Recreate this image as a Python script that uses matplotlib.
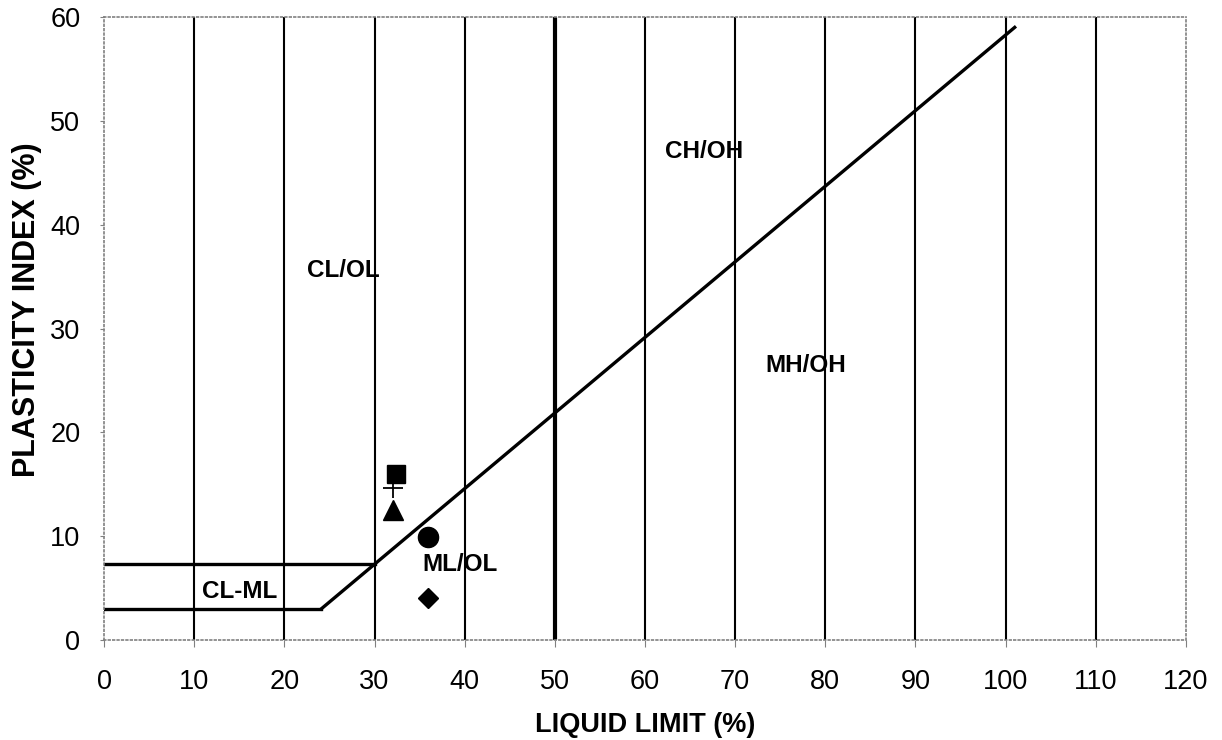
import matplotlib
matplotlib.use("Agg")
import matplotlib.pyplot as plt

plt.rcParams['font.family'] = ['Liberation Sans', 'DejaVu Sans']

# A-line and boundaries
a_line_x = [24.1, 101.0]
a_line_y = [3.0, 59.0]
low_line_x = [0, 24.1]
low_line_y = [3.0, 3.0]
up_line_x = [0, 30.0]
up_line_y = [7.3, 7.3]

# Samples
sq_x, sq_y = [32.4], [16.0]
plus_x, plus_y = [32.0], [14.6]
tri_x, tri_y = [32.0], [12.5]
circ_x, circ_y = [35.9], [9.9]
dia_x, dia_y = [35.9], [4.0]

zones = ["CL/OL", "CH/OH", "MH/OH", "ML/OL", "CL-ML"]
zone_x = [26.5, 66.6, 77.8, 39.5, 15.0]
zone_y = [35.6, 47.0, 26.4, 7.3, 4.7]

x_ticks = list(range(0, 121, 10))
y_ticks = list(range(0, 61, 10))

fig = plt.figure(figsize=(12.22, 7.40), dpi=100)
ax = fig.add_axes([104/1222, 1-640/740, (1186-104)/1222, (640-17)/740])

for xv in x_ticks[1:-1]:
    ax.axvline(xv, color='black', lw=3.0 if xv == 50 else 1.5, zorder=1)

ax.plot(a_line_x, a_line_y, color='black', lw=2.4)
ax.plot(low_line_x, low_line_y, color='black', lw=2.4)
ax.plot(up_line_x, up_line_y, color='black', lw=2.4)

ax.plot(sq_x, sq_y, 's', color='black', ms=13, zorder=3)
ax.plot(plus_x, plus_y, '+', color='black', ms=15, mew=1.3, zorder=3)
ax.plot(tri_x, tri_y, '^', color='black', ms=15, zorder=3)
ax.plot(circ_x, circ_y, 'o', color='black', ms=14.5, zorder=3)
ax.plot(dia_x, dia_y, 'D', color='black', ms=10, zorder=3)

for t, xv, yv in zip(zones, zone_x, zone_y):
    ax.text(xv, yv, t, ha='center', va='center', fontsize=17.5, fontweight='bold')

ax.set_xlim(0, 120)
ax.set_ylim(0, 60)
ax.set_xticks(x_ticks)
ax.set_yticks(y_ticks)
ax.tick_params(axis='x', labelsize=19.5, length=5, color='gray', pad=16)
ax.tick_params(axis='y', labelsize=19.5, length=3, color='gray', pad=14)
for s in ax.spines.values():
    s.set_color('gray')
    s.set_linestyle(':')
    s.set_linewidth(1.2)

ax.set_xlabel("LIQUID LIMIT (%)", fontsize=19.5, fontweight='bold', labelpad=12)
ax.set_ylabel("PLASTICITY INDEX (%)", fontsize=22, fontweight='bold')
ax.yaxis.set_label_coords(-0.057, 0.53)

fig.savefig("out.png", dpi=100)
